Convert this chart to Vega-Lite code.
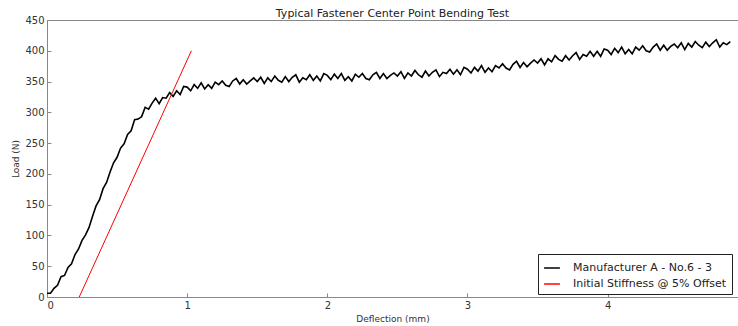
{
  "$schema": "https://vega.github.io/schema/vega-lite/v6.json",
  "width": 691,
  "height": 277,
  "autosize": {"type": "none"},
  "padding": {"left": 47, "top": 20, "right": 0, "bottom": 29},
  "background": "white",
  "title": {"text": "Typical Fastener Center Point Bending Test", "fontSize": 11, "font": "DejaVu Sans", "fontWeight": "normal", "color": "#222", "offset": -4},
  "config": {
    "view": {"stroke": "#888", "strokeWidth": 1},
    "axis": {"grid": false, "domainColor": "#888", "tickColor": "#888", "tickSize": -4, "labelFont": "DejaVu Sans", "labelFontSize": 10, "labelColor": "#333", "titleFont": "DejaVu Sans", "titleFontSize": 9, "titleFontWeight": "normal", "titleColor": "#333", "labelPadding": 7, "labelOverlap": false}
  },
  "datasets": {
    "curve": [
      {"x":0,"y":6},{"x":0.025,"y":6},{"x":0.05,"y":14},{"x":0.075,"y":19},{"x":0.1,"y":33},{"x":0.125,"y":35},{"x":0.15,"y":48},{"x":0.175,"y":54},{"x":0.2,"y":69},{"x":0.225,"y":78},
      {"x":0.25,"y":92},{"x":0.275,"y":101},{"x":0.3,"y":113},{"x":0.325,"y":131},{"x":0.35,"y":148},{"x":0.375,"y":158},{"x":0.4,"y":176},{"x":0.425,"y":186},{"x":0.45,"y":203},{"x":0.475,"y":218},
      {"x":0.5,"y":227},{"x":0.525,"y":242},{"x":0.55,"y":249},{"x":0.575,"y":264},{"x":0.6,"y":270},{"x":0.625,"y":288},{"x":0.65,"y":289},{"x":0.675,"y":293},{"x":0.7,"y":308},{"x":0.725,"y":305},
      {"x":0.75,"y":315},{"x":0.775,"y":323},{"x":0.8,"y":314},{"x":0.825,"y":324},{"x":0.85,"y":323},{"x":0.875,"y":332},{"x":0.9,"y":326},{"x":0.925,"y":335},{"x":0.95,"y":329},{"x":0.975,"y":342},
      {"x":1.0,"y":341},{"x":1.025,"y":335},{"x":1.05,"y":345},{"x":1.075,"y":339},{"x":1.1,"y":348},{"x":1.125,"y":338},{"x":1.15,"y":345},{"x":1.175,"y":339},{"x":1.2,"y":349},{"x":1.225,"y":345},
      {"x":1.25,"y":351},{"x":1.275,"y":344},{"x":1.3,"y":342},{"x":1.325,"y":351},{"x":1.35,"y":355},{"x":1.375,"y":346},{"x":1.4,"y":353},{"x":1.425,"y":346},{"x":1.45,"y":351},{"x":1.475,"y":356},
      {"x":1.5,"y":350},{"x":1.525,"y":357},{"x":1.55,"y":347},{"x":1.575,"y":356},{"x":1.6,"y":350},{"x":1.625,"y":359},{"x":1.65,"y":352},{"x":1.675,"y":349},{"x":1.7,"y":358},{"x":1.725,"y":350},
      {"x":1.75,"y":357},{"x":1.775,"y":361},{"x":1.8,"y":349},{"x":1.825,"y":356},{"x":1.85,"y":353},{"x":1.875,"y":361},{"x":1.9,"y":352},{"x":1.925,"y":359},{"x":1.95,"y":351},{"x":1.975,"y":363},
      {"x":2.0,"y":360},{"x":2.025,"y":353},{"x":2.05,"y":362},{"x":2.075,"y":355},{"x":2.1,"y":363},{"x":2.125,"y":352},{"x":2.15,"y":358},{"x":2.175,"y":351},{"x":2.2,"y":362},{"x":2.225,"y":357},
      {"x":2.25,"y":363},{"x":2.275,"y":355},{"x":2.3,"y":353},{"x":2.325,"y":361},{"x":2.35,"y":365},{"x":2.375,"y":355},{"x":2.4,"y":363},{"x":2.425,"y":355},{"x":2.45,"y":360},{"x":2.475,"y":364},
      {"x":2.5,"y":359},{"x":2.525,"y":366},{"x":2.55,"y":355},{"x":2.575,"y":364},{"x":2.6,"y":359},{"x":2.625,"y":368},{"x":2.65,"y":361},{"x":2.675,"y":357},{"x":2.7,"y":367},{"x":2.725,"y":359},
      {"x":2.75,"y":365},{"x":2.775,"y":369},{"x":2.8,"y":358},{"x":2.825,"y":365},{"x":2.85,"y":363},{"x":2.875,"y":370},{"x":2.9,"y":362},{"x":2.925,"y":369},{"x":2.95,"y":361},{"x":2.975,"y":373},
      {"x":3.0,"y":370},{"x":3.025,"y":364},{"x":3.05,"y":373},{"x":3.075,"y":367},{"x":3.1,"y":376},{"x":3.125,"y":365},{"x":3.15,"y":372},{"x":3.175,"y":366},{"x":3.2,"y":376},{"x":3.225,"y":372},
      {"x":3.25,"y":379},{"x":3.275,"y":372},{"x":3.3,"y":369},{"x":3.325,"y":378},{"x":3.35,"y":383},{"x":3.375,"y":373},{"x":3.4,"y":381},{"x":3.425,"y":374},{"x":3.45,"y":380},{"x":3.475,"y":385},
      {"x":3.5,"y":380},{"x":3.525,"y":387},{"x":3.55,"y":377},{"x":3.575,"y":387},{"x":3.6,"y":382},{"x":3.625,"y":392},{"x":3.65,"y":386},{"x":3.675,"y":383},{"x":3.7,"y":392},{"x":3.725,"y":385},
      {"x":3.75,"y":392},{"x":3.775,"y":397},{"x":3.8,"y":386},{"x":3.825,"y":394},{"x":3.85,"y":391},{"x":3.875,"y":399},{"x":3.9,"y":391},{"x":3.925,"y":399},{"x":3.95,"y":391},{"x":3.975,"y":403},
      {"x":4.0,"y":401},{"x":4.025,"y":394},{"x":4.05,"y":404},{"x":4.075,"y":397},{"x":4.1,"y":406},{"x":4.125,"y":395},{"x":4.15,"y":402},{"x":4.175,"y":395},{"x":4.2,"y":406},{"x":4.225,"y":401},
      {"x":4.25,"y":408},{"x":4.275,"y":400},{"x":4.3,"y":398},{"x":4.325,"y":406},{"x":4.35,"y":411},{"x":4.375,"y":401},{"x":4.4,"y":409},{"x":4.425,"y":401},{"x":4.45,"y":407},{"x":4.475,"y":411},
      {"x":4.5,"y":405},{"x":4.525,"y":413},{"x":4.55,"y":402},{"x":4.575,"y":412},{"x":4.6,"y":406},{"x":4.625,"y":415},{"x":4.65,"y":409},{"x":4.675,"y":405},{"x":4.7,"y":414},{"x":4.725,"y":407},
      {"x":4.75,"y":413},{"x":4.775,"y":418},{"x":4.8,"y":406},{"x":4.825,"y":413},{"x":4.85,"y":410},{"x":4.875,"y":415}
    ],
    "stiff": [{"x":0.23,"y":0},{"x":1.03,"y":400}]
  },
  "layer": [
    {
      "data": {"name": "curve"},
      "transform": [{"calculate": "'Manufacturer A - No.6 - 3'", "as": "series"}],
      "mark": {"type": "line", "strokeWidth": 1.6, "clip": true},
      "encoding": {
        "x": {"field": "x", "type": "quantitative", "scale": {"domain": [0, 4.93], "nice": false, "zero": false}, "axis": {"title": "Deflection (mm)", "values": [0,1,2,3,4], "format": "d", "titlePadding": 4, "labelOverlap": false}},
        "y": {"field": "y", "type": "quantitative", "scale": {"domain": [0, 450], "nice": false}, "axis": {"title": "Load (N)", "values": [0,50,100,150,200,250,300,350,400,450], "titlePadding": 4, "labelOverlap": false, "tickCount": 10}},
        "color": {"field": "series", "type": "nominal", "scale": {"domain": ["Manufacturer A - No.6 - 3", "Initial Stiffness @ 5% Offset"], "range": ["#000000", "#ff0000"]},
          "legend": {"title": null, "orient": "none", "legendX": 491, "legendY": 234, "symbolType": "stroke", "symbolSize": 250, "symbolStrokeWidth": 1.5, "labelFont": "DejaVu Sans", "labelFontSize": 11, "labelColor": "#222", "strokeColor": "#222", "padding": 5, "fillColor": "white", "rowPadding": 2, "labelOffset": 12, "labelLimit": 300}}
      }
    },
    {
      "data": {"name": "stiff"},
      "transform": [{"calculate": "'Initial Stiffness @ 5% Offset'", "as": "series"}],
      "mark": {"type": "line", "strokeWidth": 1},
      "encoding": {
        "x": {"field": "x", "type": "quantitative", "axis": {"labelOverlap": false}},
        "y": {"field": "y", "type": "quantitative", "axis": {"labelOverlap": false}},
        "color": {"field": "series", "type": "nominal"}
      }
    }
  ]
}
